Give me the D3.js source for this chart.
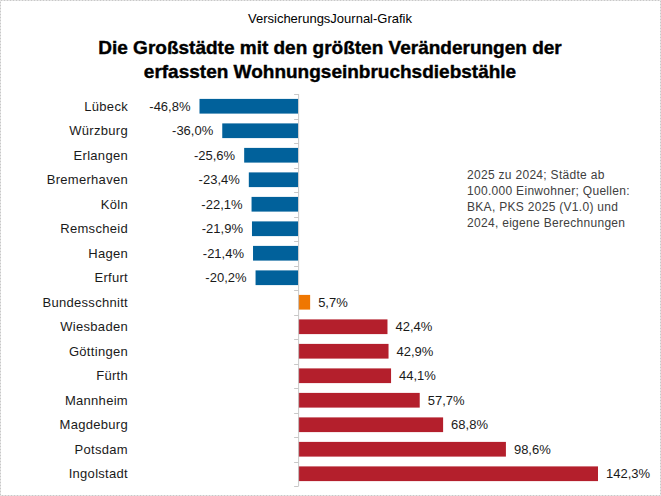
<!DOCTYPE html>
<html>
<head>
<meta charset="utf-8">
<script src="https://cdn.jsdelivr.net/npm/d3@7"></script>
<style>
  body { margin: 0; background: #fff; }
  svg { font-family: "Liberation Sans", Arial, sans-serif; }
</style>
</head>
<body>
<svg width="661" height="496"></svg>
<script>
var cities = ["Lübeck", "Würzburg", "Erlangen", "Bremerhaven", "Köln", "Remscheid", "Hagen", "Erfurt",
  "Bundesschnitt", "Wiesbaden", "Göttingen", "Fürth", "Mannheim", "Magdeburg", "Potsdam", "Ingolstadt"];
var changes = [-46.8, -36.0, -25.6, -23.4, -22.1, -21.9, -21.4, -20.2,
  5.7, 42.4, 42.9, 44.1, 57.7, 68.8, 98.6, 142.3];
var noteLines = ["2025 zu 2024; Städte ab", "100.000 Einwohner; Quellen:", "BKA, PKS 2025  (V1.0) und", "2024, eigene Berechnungen"];

var data = cities.map(function(c, i) { return {city: c, value: changes[i]}; });

var svg = d3.select("svg");

// border
svg.append("rect")
    .attr("x", 0.5).attr("y", 0.5)
    .attr("width", 660).attr("height", 495)
    .attr("fill", "none")
    .attr("stroke", "#c8c8c8")
    .attr("stroke-dasharray", "2,1");

svg.append("text")
    .attr("x", 330).attr("y", 23)
    .attr("text-anchor", "middle")
    .attr("font-size", 13)
    .attr("fill", "#000")
    .text("VersicherungsJournal-Grafik");

var titles = ["Die Großstädte mit den größten Veränderungen der", "erfassten Wohnungseinbruchsdiebstähle"];
svg.selectAll(".title")
  .data(titles)
  .enter().append("text")
    .attr("class", "title")
    .attr("x", 330)
    .attr("y", function(d, i) { return 54 + i * 24; })
    .attr("text-anchor", "middle")
    .attr("font-size", 19)
    .attr("font-weight", "bold")
    .attr("stroke", "#000")
    .attr("stroke-width", 0.4)
    .text(function(d) { return d; });

var x = d3.scaleLinear().domain([-46.8, 142.3]).range([199.5, 598]);
var y = d3.scaleBand().domain(cities).range([94, 486]).paddingInner(0.4).paddingOuter(0.2);

function color(d) {
  if (d.city === "Bundesschnitt") return "#ef7701";
  return d.value < 0 ? "#01619b" : "#b41f2c";
}

// bars
svg.selectAll(".bar")
  .data(data)
  .enter().append("rect")
    .attr("class", "bar")
    .attr("x", function(d) { return x(Math.min(0, d.value)); })
    .attr("y", function(d) { return y(d.city); })
    .attr("width", function(d) { return Math.abs(x(d.value) - x(0)); })
    .attr("height", y.bandwidth())
    .attr("fill", color);

// axis line at zero with ticks between categories
var axis = svg.append("g").attr("stroke", "#c8c8c8").attr("stroke-width", 1);
axis.append("line")
    .attr("x1", x(0) + 0.5).attr("x2", x(0) + 0.5)
    .attr("y1", 94).attr("y2", 486);
axis.selectAll(".tick")
  .data(d3.range(cities.length + 1))
  .enter().append("line")
    .attr("x1", x(0) - 4).attr("x2", x(0) + 0.5)
    .attr("y1", function(i) { return Math.round(94 + i * (392 / cities.length)) + 0.5; })
    .attr("y2", function(i) { return Math.round(94 + i * (392 / cities.length)) + 0.5; });

// category labels
svg.selectAll(".cat")
  .data(data)
  .enter().append("text")
    .attr("class", "cat")
    .attr("x", 128)
    .attr("y", function(d) { return y(d.city) + y.bandwidth() / 2; })
    .attr("dy", "0.36em")
    .attr("text-anchor", "end")
    .attr("font-size", 13)
    .attr("letter-spacing", "0.3px")
    .attr("fill", "#1a1a1a")
    .text(function(d) { return d.city; });

// value labels
svg.selectAll(".val")
  .data(data)
  .enter().append("text")
    .attr("class", "val")
    .attr("x", function(d) { return d.value < 0 ? x(d.value) - 9 : x(d.value) + 8; })
    .attr("y", function(d) { return y(d.city) + y.bandwidth() / 2; })
    .attr("dy", "0.36em")
    .attr("text-anchor", function(d) { return d.value < 0 ? "end" : "start"; })
    .attr("font-size", 13)
    .attr("fill", "#1a1a1a")
    .text(function(d) { return d3.format(".1f")(d.value).replace("−", "-").replace(".", ",") + "%"; });

// note
svg.append("g").selectAll("text")
  .data(noteLines)
  .enter().append("text")
    .attr("x", 467)
    .attr("y", function(d, i) { return 179 + i * 16; })
    .attr("font-size", 12)
    .attr("letter-spacing", "0.3px")
    .attr("fill", "#404040")
    .text(function(d) { return d; });
</script>
</body>
</html>
